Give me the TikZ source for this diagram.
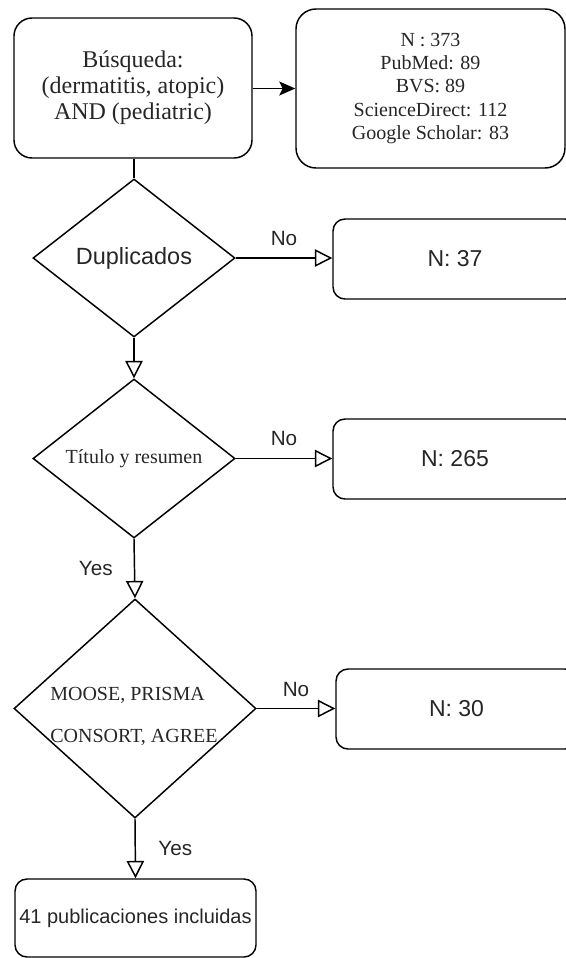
\documentclass[tikz,border=0pt]{standalone}
\usepackage{fontspec}
\setmainfont{Liberation Serif}
\newfontfamily\arialf{Liberation Sans}
\usetikzlibrary{shapes.geometric,arrows.meta}
\begin{document}
\begin{tikzpicture}[x=0.75pt,y=-0.75pt,
  line width=1.1pt,
  every node/.style={text=black!85},
  box/.style={draw, rounded corners=9pt, inner sep=0pt, align=center},
  dec/.style={draw, diamond, inner sep=0pt, align=center},
  lab/.style={font=\arialf\fontsize{15.5}{18}\selectfont},
  nlab/.style={font=\arialf\fontsize{17.25}{20}\selectfont},
  openarr/.style={-{Triangle[open,length=13pt,width=13pt]}},
  fillarr/.style={-{Stealth[length=12pt,width=10.5pt,inset=2.5pt]}},
]
\useasboundingbox (0,0) rectangle (566,958);
\clip (0,0) rectangle (566,958);

% top row
\node[box, rounded corners=13.5pt, minimum width=178.5pt, minimum height=105pt,
      font=\fontsize{18}{19.5}\selectfont] (search) at (133,88)
      {Búsqueda:\\(dermatitis, atopic)\\AND (pediatric)};
\node[box, rounded corners=15pt, minimum width=201.75pt, minimum height=119.25pt,
      font=\fontsize{15}{17.5}\selectfont] (db) at (430.5,88.5)
      {N : 373\\PubMed: 89\\BVS: 89\\ScienceDirect: 112\\Google Scholar: 83};

% decisions
\node[dec, aspect=1.28, minimum width=151.5pt, minimum height=118.5pt,
      font=\arialf\fontsize{17.6}{20}\selectfont] (dup) at (134,258) {Duplicados};
\node[dec, aspect=1.27, minimum width=151.5pt, minimum height=119.25pt,
      font=\fontsize{15}{17}\selectfont] (tit) at (134,458.5) {Título y resumen};
\node[dec, aspect=1.105, minimum width=181.5pt, minimum height=164.25pt] (moose) at (135,708.5) {};
\node[align=left, font=\fontsize{15}{31.5}\selectfont, inner sep=0pt] (moosetxt) at (134,716)
      {MOOSE, PRISMA\\CONSORT, AGREE};

% result boxes
\node[box, minimum width=183pt, minimum height=60pt, nlab] (n37) at (455,259) {N: 37};
\node[box, minimum width=183pt, minimum height=60pt, nlab] (n265) at (455,459) {N: 265};
\node[box, minimum width=180.75pt, minimum height=60pt, nlab] (n30) at (456.5,709) {N: 30};
\node[box, minimum width=180.75pt, minimum height=58.5pt,
      font=\arialf\fontsize{15}{18}\selectfont] (final) at (135.5,918) {41 publicaciones incluidas};

% connectors
\draw[fillarr] (search.east |- db.west) -- (db.west);
\draw (search.south -| dup.north) -- (dup.north);
\draw[openarr] (dup.east) -- (dup.east -| n37.west) node[lab, midway, yshift=15pt] {No};
\draw[openarr] (dup.south) -- (tit.north);
\draw[openarr] (tit.east) -- (tit.east -| n265.west) node[lab, midway, yshift=15pt] {No};
\draw[openarr] (tit.south) -- (moose.north) node[lab, midway, xshift=-29pt] {Yes};
\draw[openarr] (moose.east) -- (moose.east -| n30.west) node[lab, midway, yshift=14.5pt] {No};
\draw[openarr] (moose.south) -- (final.north) node[lab, midway, xshift=30pt] {Yes};
\end{tikzpicture}
\end{document}
